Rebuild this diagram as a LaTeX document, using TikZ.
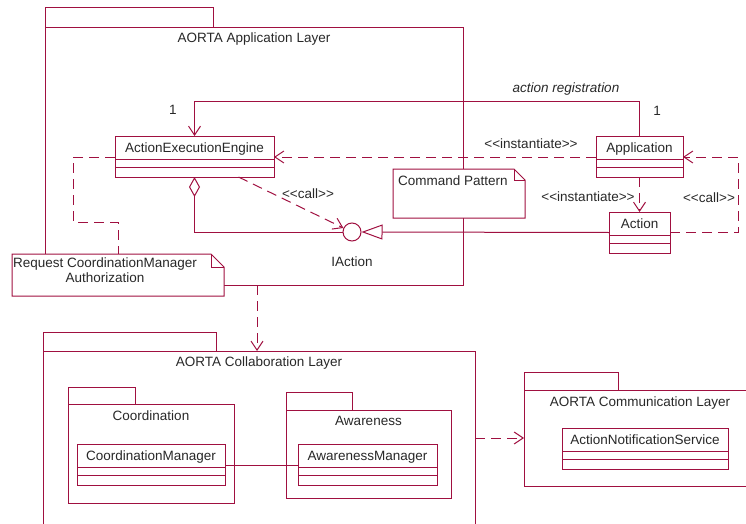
\documentclass[tikz,border=0pt]{standalone}
\usepackage{fontspec}
\setmainfont{Liberation Sans}
\usetikzlibrary{arrows.meta}

\begin{document}
\begin{tikzpicture}[x=1pt,y=-1pt,
  font=\fontsize{13.5}{15}\selectfont,
  umlline/.style={line width=1pt, draw=umlred},
  dashline/.style={umlline, dash pattern=on 10pt off 6pt},
  dep/.style={dashline, -{Straight Barb[length=9pt,width=12pt]}},
  clsname/.style={umlline, fill=white, minimum height=23, inner sep=0, outer sep=0, text height=10, text depth=0, text=umltext},
  clspart/.style={umlline, fill=white, inner sep=0, outer sep=0},
  pkgbody/.style={umlline, inner sep=0, outer sep=0, anchor=north west},
  pkgtitle/.style={inner sep=0, anchor=base, text=umltext},
  lbl/.style={inner sep=0, text height=10, text depth=0, text=umltext},
  notebox/.style={inner sep=0, outer sep=0, anchor=north west}]
\useasboundingbox (0,0) rectangle (746,524);
\clip (0,0) rectangle (746,524);
\definecolor{umlred}{RGB}{160, 16, 64}
\definecolor{umltext}{RGB}{40, 40, 40}
\def\stereo#1{<\kern0pt<#1>\kern0pt>}
\def\umlclass#1#2#3#4{% name, top centre, width, text
  \node[clsname, minimum width=#3, anchor=north] (#1) at #2 {#4};
  \node[clspart, minimum width=#3, minimum height=8, anchor=north] (#1-attr) at (#1.south) {};
  \node[clspart, minimum width=#3, minimum height=10, anchor=north] (#1-ops) at (#1-attr.south) {};
}
% packages
\node[pkgbody, minimum width=418, minimum height=257] (applayer) at (45,28) {};
\draw[umlline] (applayer.north west) rectangle ++(168,-20);
\node[pkgtitle] (applayer-title) at ([yshift=-15pt]applayer.north) {AORTA Application Layer};
\node[pkgbody, minimum width=432, minimum height=210] (collab) at (43,351) {};
\draw[umlline] (collab.north west) rectangle ++(173,-19);
\node[pkgtitle] (collab-title) at ([yshift=-15pt]collab.north) {AORTA Collaboration Layer};
\node[pkgbody, minimum width=166, minimum height=99] (coord) at (68,404) {};
\draw[umlline] (coord.north west) rectangle ++(67,-17);
\node[pkgtitle] (coord-title) at ([yshift=-16pt]coord.north) {Coordination};
\node[pkgbody, minimum width=165, minimum height=88] (aware) at (286,410) {};
\draw[umlline] (aware.north west) rectangle ++(66,-18);
\node[pkgtitle] (aware-title) at ([yshift=-15pt]aware.north) {Awareness};
\node[pkgbody, minimum width=232, minimum height=96] (comm) at (524,390) {};
\draw[umlline] (comm.north west) rectangle ++(94,-18);
\node[pkgtitle] (comm-title) at ([yshift=-16pt]comm.north) {AORTA Communication Layer};
% classes
\umlclass{aee}{(194.5,136)}{159}{ActionExecutionEngine}
\umlclass{app}{(639.5,136)}{87}{Application}
\umlclass{action}{(639.5,212)}{61}{Action}
\umlclass{coordmgr}{(151,444)}{148}{CoordinationManager}
\umlclass{awaremgr}{(367.5,444)}{139}{AwarenessManager}
\umlclass{ans}{(645,428)}{166}{ActionNotificationService}
\node[circle, umlline, fill=white, minimum size=18, inner sep=0] (iaction) at (352,232) {};
% notes
\node[notebox, minimum width=132, minimum height=49] (cmdnote) at (393,169) {};
\draw[umlline, fill=white] (cmdnote.north west) -- ([xshift=-11pt]cmdnote.north east)
  -- ([yshift=-11pt]cmdnote.north east) -- (cmdnote.south east) -- (cmdnote.south west) -- cycle;
\draw[umlline] ([xshift=-11pt]cmdnote.north east) |- ([yshift=-11pt]cmdnote.north east);
\node[anchor=base west, inner sep=0, text=umltext] (cmdnote-text) at ([xshift=5pt,yshift=-16pt]cmdnote.north west) {Command Pattern};
\node[notebox, minimum width=212, minimum height=42] (reqnote) at (12,254) {};
\draw[umlline, fill=white] (reqnote.north west) -- ([xshift=-13pt]reqnote.north east)
  -- ([yshift=-13pt]reqnote.north east) -- (reqnote.south east) -- (reqnote.south west) -- cycle;
\draw[umlline] ([xshift=-13pt]reqnote.north east) |- ([yshift=-13pt]reqnote.north east);
\node[align=center, anchor=north, inner sep=0, text=umltext] (reqnote-text) at ([xshift=-13pt,yshift=-4pt]reqnote.north) {Request CoordinationManager\\Authorization};
% connectors
\draw[umlline, -{Straight Barb[length=9pt,width=12pt]}] (app.north) -- ++(0,-34) -| (aee.north);
\draw[dep] ([yshift=-9.5pt]app.west) -- ([yshift=-9.5pt]aee.east);
\coordinate (reqbend) at (73,222);
\draw[dashline] ([yshift=-9.5pt]aee.west) -| (reqbend) -| (reqnote.north);
\draw[dep] (app-ops.south) -- (action.north);
\draw[dep] ([yshift=-9pt]action.east) -- ++(68,0) |- ([yshift=-9.5pt]app.east);
\draw[umlline, -{Triangle[open,length=21pt,width=15pt]}] ([yshift=-9pt]action.west) -- (iaction.east);
\draw[umlline, {Diamond[open,length=20pt,width=11pt]}-] (aee-ops.south) |- (iaction.west);
\draw[dep] ([xshift=44pt]aee-ops.south) -- (iaction.155);
\draw[dep] ([xshift=3pt]applayer.south) -- ([xshift=3pt]applayer.south |- collab.north);
\draw[umlline] ([yshift=-10pt]coordmgr.east) -- ([yshift=-10pt]awaremgr.west);
\draw[dep] (collab.east |- comm.west) -- (comm.west);
% labels
\node[lbl] (reg-label) at (566,88) {\itshape action registration};
\node[lbl] (aee-mult) at (173,109) {1};
\node[lbl] (app-mult) at (657,110) {1};
\node[lbl] (inst-label) at (531,143) {\stereo{instantiate}};
\node[lbl] (inst2-label) at (588,196) {\stereo{instantiate}};
\node[lbl] (call-label) at (709,197) {\stereo{call}};
\node[lbl] (call2-label) at (308,193) {\stereo{call}};
\node[lbl] (iaction-label) at (352,261) {IAction};
\end{tikzpicture}
\end{document}
